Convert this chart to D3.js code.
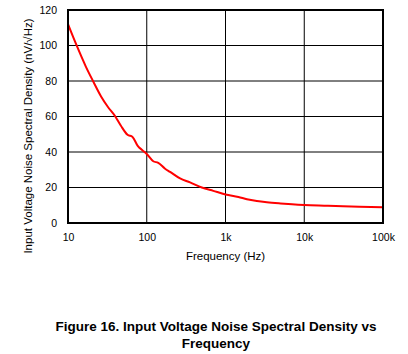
<!DOCTYPE html>
<html>
<head>
<meta charset="utf-8">
<script src="https://cdn.jsdelivr.net/npm/d3@7"></script>
<style>
  body { margin: 0; background: #fff; }
  svg text { font-family: "Liberation Sans", Arial, sans-serif; }
</style>
</head>
<body>
<div id="chart"></div>
<script>
// noise density readings (Hz, nV/rtHz)
const freqs = [10, 12.6, 16.9, 21, 26.3, 32, 39.9, 47, 57, 66, 76.8, 88, 100, 121, 140, 171, 198, 265, 355, 500, 700, 1000, 1460, 1870, 2500, 3350, 5000, 7000, 10000, 20000, 31000, 50000, 100000];
const noise = [112, 101, 88, 79.6, 71.3, 65.5, 60, 54.8, 49.7, 48.5, 43.5, 41, 38.9, 34.8, 33.9, 30.6, 28.8, 25.1, 22.9, 20, 18.1, 16.1, 14.7, 13.4, 12.4, 11.7, 11, 10.5, 10.1, 9.7, 9.4, 9.1, 8.8];

const xTicks = [10, 100, 1000, 10000, 100000];
const xTickLabels = ["10", "100", "1k", "10k", "100k"];
const yTicks = [0, 20, 40, 60, 80, 100, 120];

const width = 408, height = 354;
const margin = { top: 10, right: 25, bottom: 131, left: 68 };
const innerW = width - margin.left - margin.right;
const innerH = height - margin.top - margin.bottom;

const svg = d3.select("#chart").append("svg")
  .attr("width", width)
  .attr("height", height);

const g = svg.append("g")
  .attr("transform", `translate(${margin.left},${margin.top})`);

const x = d3.scaleLog().domain([10, 100000]).range([0, innerW]);
const y = d3.scaleLinear().domain([0, 120]).range([innerH, 0]);

// grid
g.selectAll(".vgrid").data(xTicks).enter().append("line")
  .attr("x1", d => x(d)).attr("x2", d => x(d))
  .attr("y1", 0).attr("y2", innerH)
  .attr("stroke", "#000").attr("stroke-width", 1);

g.selectAll(".hgrid").data(yTicks).enter().append("line")
  .attr("x1", 0).attr("x2", innerW)
  .attr("y1", d => y(d)).attr("y2", d => y(d))
  .attr("stroke", "#000").attr("stroke-width", 1);

// axes (labels only)
const xAxis = d3.axisBottom(x).tickValues(xTicks)
  .tickFormat((d, i) => xTickLabels[i]).tickSize(0).tickPadding(11);
const yAxis = d3.axisLeft(y).tickValues(yTicks).tickSize(0).tickPadding(11);

const gx = g.append("g").attr("transform", `translate(0,${innerH})`).call(xAxis);
const gy = g.append("g").call(yAxis);
[gx, gy].forEach(a => {
  a.select(".domain").remove();
  a.selectAll("text").attr("font-size", "10.5px").attr("fill", "#000")
    .style("font-family", "'Liberation Sans', Arial, sans-serif");
});

// curve
const line = d3.line()
  .x((d, i) => x(freqs[i]))
  .y(d => y(d))
  .curve(d3.curveMonotoneX);

g.append("path")
  .datum(noise)
  .attr("fill", "none")
  .attr("stroke", "#ff0000")
  .attr("stroke-width", 2)
  .attr("d", line);

// frame
g.append("rect")
  .attr("width", innerW).attr("height", innerH)
  .attr("fill", "none").attr("stroke", "#000").attr("stroke-width", 2);

// axis titles
svg.append("text")
  .attr("x", margin.left + innerW / 2)
  .attr("y", 260)
  .attr("text-anchor", "middle")
  .attr("font-size", "11.5px")
  .text("Frequency (Hz)");

svg.append("text")
  .attr("transform", "translate(32,136) rotate(-90)")
  .attr("text-anchor", "middle")
  .attr("font-size", "11.5px")
  .text("Input Voltage Noise Spectral Density (nV/\u221AHz)");

// figure caption
const cap = svg.append("text")
  .attr("text-anchor", "middle")
  .attr("font-size", "13.5px")
  .attr("font-weight", "bold");
cap.append("tspan").attr("x", 216).attr("y", 331)
  .text("Figure 16. Input Voltage Noise Spectral Density vs");
cap.append("tspan").attr("x", 216).attr("y", 348)
  .text("Frequency");
</script>
</body>
</html>
